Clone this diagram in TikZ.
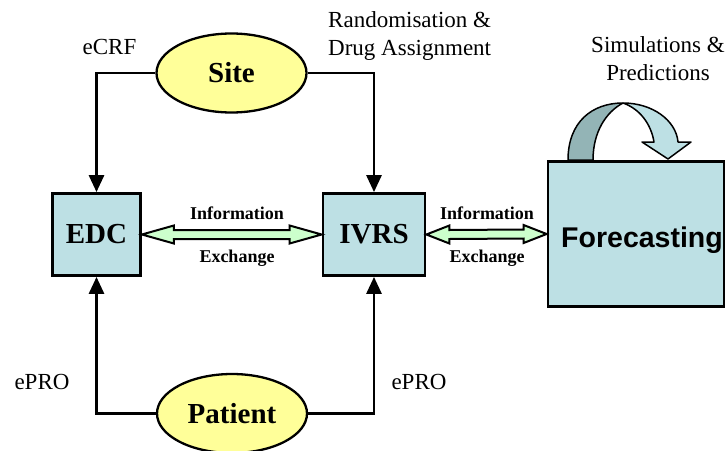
\documentclass[tikz,border=0pt]{standalone}
\usepackage{fontspec}
\setmainfont{Liberation Serif}
\newfontfamily\arialfont{Liberation Sans}
\usetikzlibrary{arrows.meta,calc,shapes.geometric}
\definecolor{boxblue}{RGB}{189,224,228}
\definecolor{darkblue}{RGB}{147,180,182}
\definecolor{ellyellow}{RGB}{255,255,153}
\definecolor{arrowgreen}{RGB}{204,255,204}
\tikzset{
  sysbox/.style={draw=black, line width=2.8pt, fill=boxblue, minimum width=88pt, minimum height=82pt, inner sep=0pt,
    font=\fontsize{29}{32}\selectfont\bfseries},
  actor/.style={ellipse, draw=black, line width=2.3pt, fill=ellyellow, minimum width=150pt, minimum height=79pt, inner sep=0pt,
    font=\fontsize{29}{32}\selectfont\bfseries},
  conn/.style={line width=2.8pt, -{Triangle[width=15pt,length=17pt]}},
  fatarrow/.style={draw=black, line width=2pt, fill=arrowgreen, line join=miter},
  lbl/.style={font=\fontsize{23}{28}\selectfont, inner sep=0pt},
  smallbold/.style={font=\fontsize{18}{20}\selectfont\bfseries, inner sep=0pt, anchor=base},
  curv/.style={draw=black, line width=1.5pt, line join=round}
}
\begin{document}
\begin{tikzpicture}[x=1pt,y=-1pt]
\useasboundingbox (0,0) rectangle (727,450);

% nodes
\node[actor] (site) at (231.5,73) {Site};
\node[actor] (patient) at (232,413.5) {Patient};
\node[sysbox] (edc) at (96.5,234.5) {EDC};
\node[sysbox, minimum width=102pt] (ivrs) at (374,234.5) {IVRS};

% curved self arrow (drawn before the forecasting box)
\path[curv, fill=darkblue] (568,160) .. controls (568,122) and (592,103) .. (623,103)
   .. controls (606,112) and (593,132) .. (593,160) -- cycle;
\path[curv, fill=boxblue] (623,103) .. controls (652,103) and (676,120) .. (678,142)
   -- (691,142) -- (668,159) -- (642,142) -- (654,142)
   .. controls (651,124) and (640,109) .. (623,103) -- cycle;

\node[sysbox, minimum width=176pt, minimum height=145.5pt, font=\fontsize{28.5}{32}\selectfont\arialfont\bfseries] (fc) at (636,234)
  {\hspace*{12pt}\raisebox{-13.5pt}[0pt][0pt]{Forecasting}};

% connectors
\draw[conn] (site.west) -| (edc.north);
\draw[conn] (site.east) -| (ivrs.north);
\draw[conn] (patient.west) -| (edc.south);
\draw[conn] (patient.east) -| (ivrs.south);

% fat double arrows
\draw[fatarrow] (edc.east) -- ++(32,-9) -- ++(0,4.5) -- ($(ivrs.west)+(-32,-4.5)$) -- ++(0,-4.5)
  -- (ivrs.west) -- ++(-32,9) -- ++(0,-4.5) -- ($(edc.east)+(32,4.5)$) -- ++(0,4.5) -- cycle;
\draw[fatarrow] (ivrs.east) -- ++(23,-9) -- ++(0,4.5) -- ($(fc.west)+(-23,-4.5)$) -- ++(0,-4.5)
  -- (fc.west) -- ++(-23,9) -- ++(0,-4.5) -- ($(ivrs.east)+(23,4.5)$) -- ++(0,4.5) -- cycle;

% labels
\node[smallbold] (i1) at (237,219) {Information};
\node[smallbold] (e1) at (237,262) {Exchange};
\node[smallbold] (i2) at (487,219) {Information};
\node[smallbold] (e2) at (487,262) {Exchange};

\node[lbl, anchor=base] (ecrf) at (109.5,54) {eCRF};
\node[lbl, anchor=base west] (rand1) at (328,27) {Randomisation \&};
\node[lbl, anchor=base west] (rand2) at (328,55) {Drug Assignment};
\node[lbl, anchor=base] (sim1) at (658,52) {Simulations \&};
\node[lbl, anchor=base] (sim2) at (658,80) {Predictions};
\node[lbl, anchor=base] (epro1) at (42,389) {ePRO};
\node[lbl, anchor=base] (epro2) at (419,389) {ePRO};
\end{tikzpicture}
\end{document}
